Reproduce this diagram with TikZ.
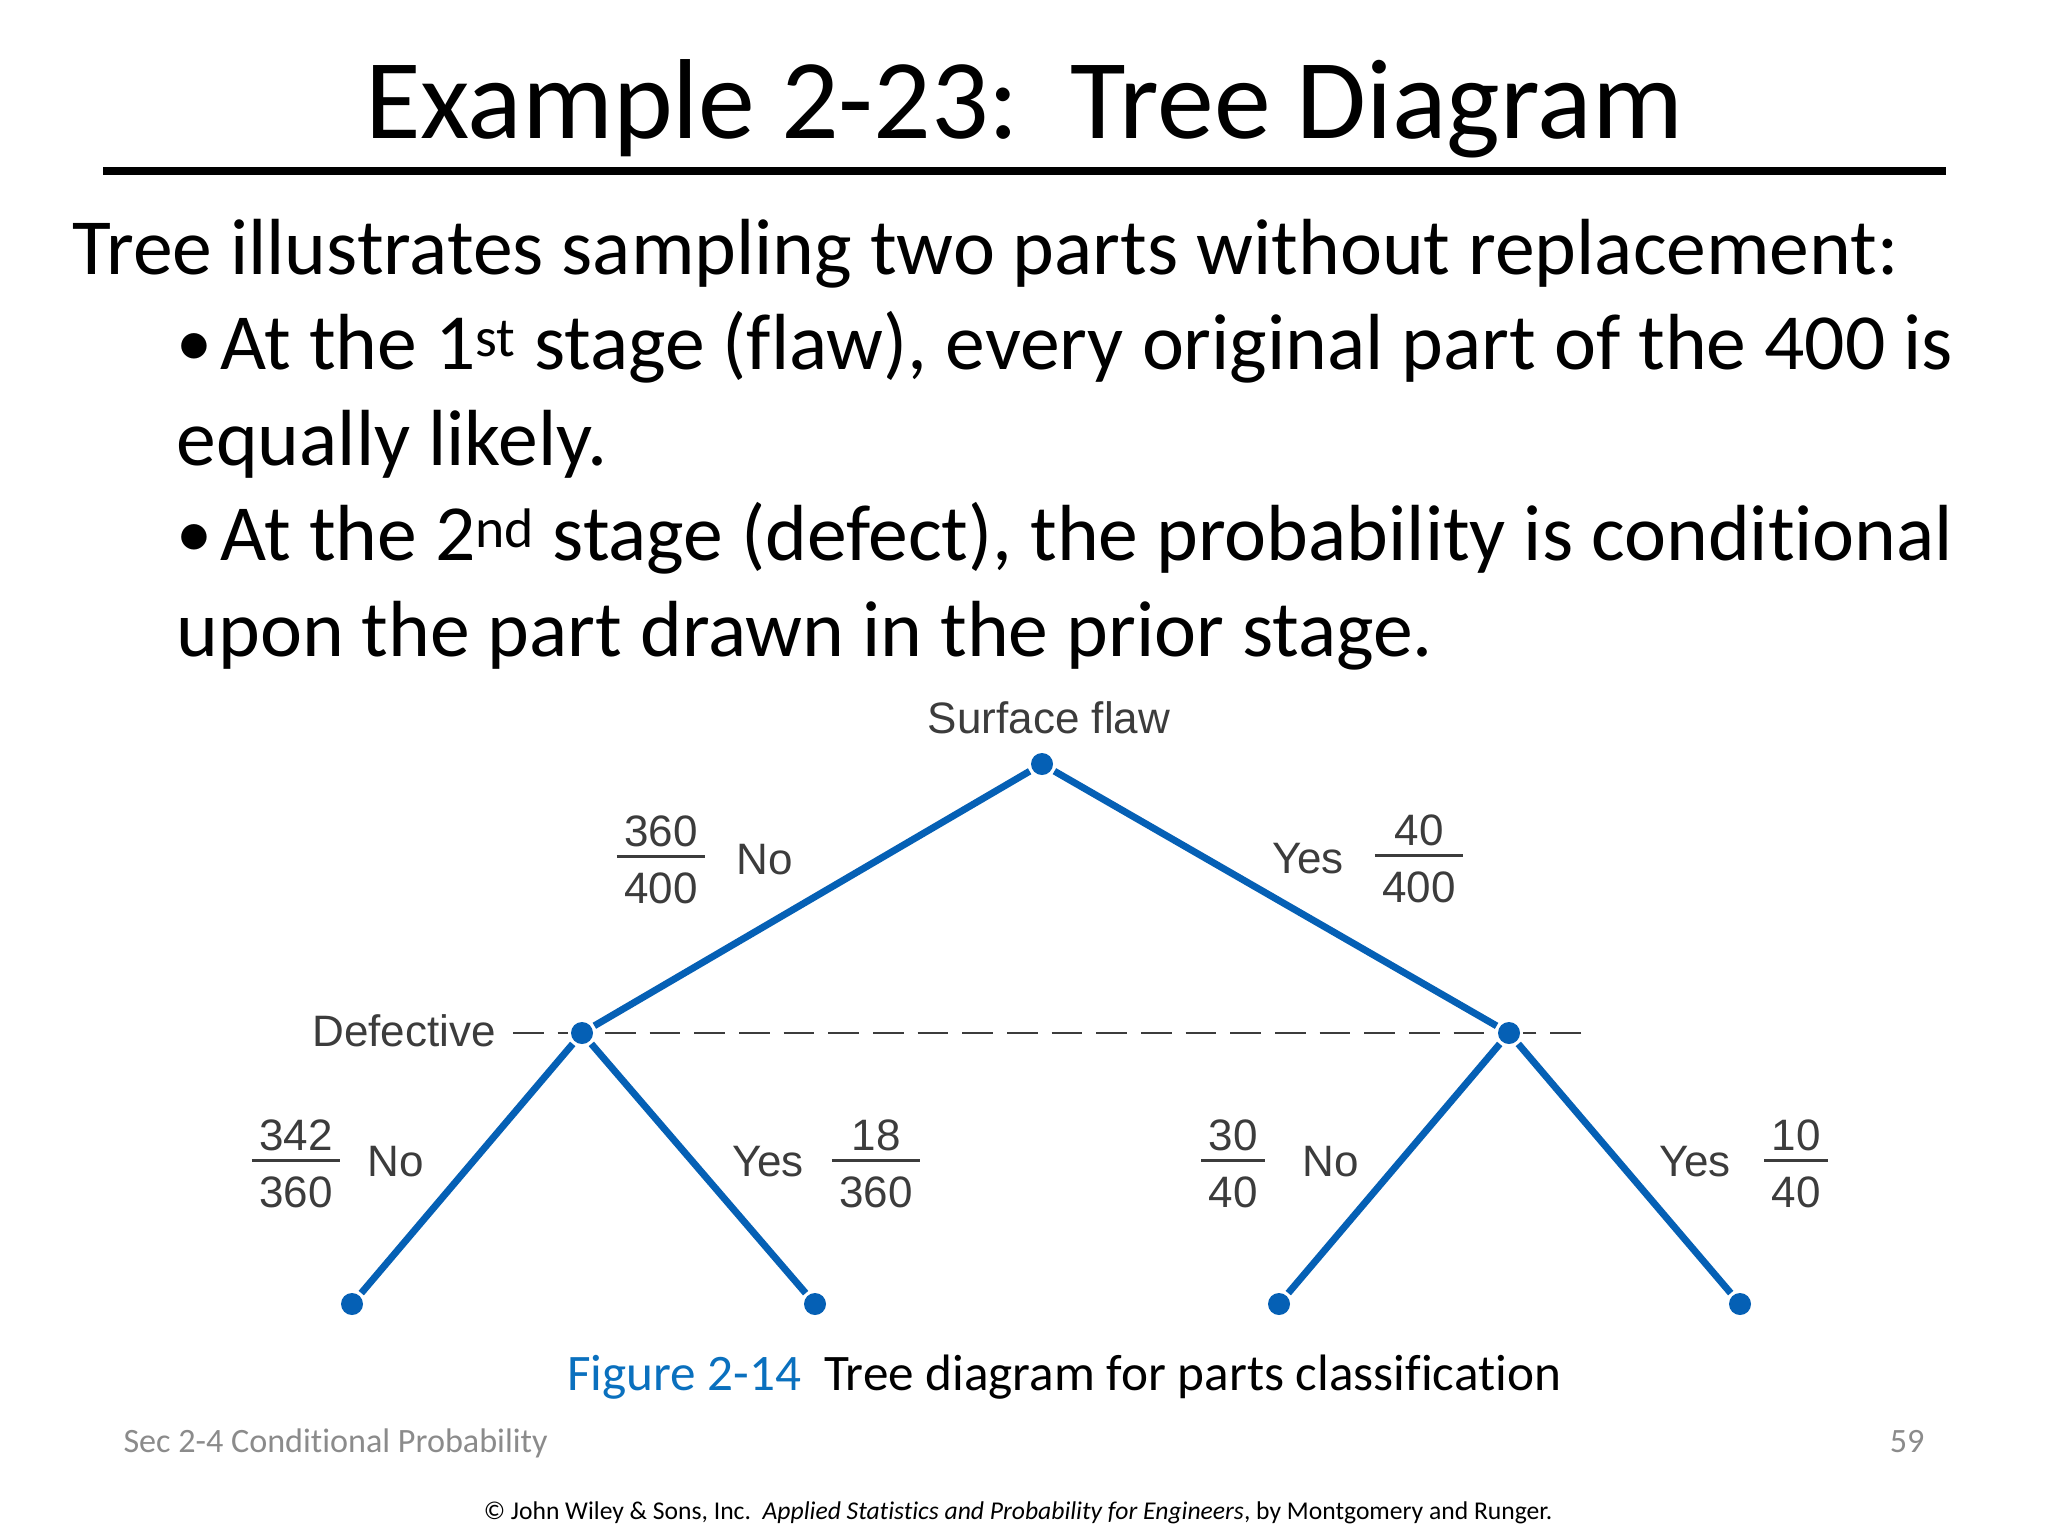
\documentclass[tikz,border=0pt]{standalone}
\usepackage{fontspec}
\setmainfont[Ligatures=NoCommon]{Carlito}
\newfontfamily\figfont{Liberation Sans}
\definecolor{treeblue}{HTML}{0560B5}
\definecolor{figgray}{HTML}{3C3C3C}
\definecolor{footgray}{HTML}{8B8B8B}
\definecolor{capblue}{HTML}{0A70BE}
\newcommand{\partfrac}[2]{\renewcommand{\arraystretch}{0}\arrayrulewidth=2pt\begin{tabular}{@{\hspace{5.5pt}}c@{\hspace{5.5pt}}}\rule[-7pt]{0pt}{34pt}#1\\\hline\rule{0pt}{34pt}#2\end{tabular}}
\newcommand{\slidebullet}{\makebox[33pt][l]{\raisebox{2pt}{\fontsize{54}{54}\selectfont\textbullet}}}
\tikzset{
  every picture/.style={line width=0.75pt},
  titletext/.style={anchor=base,inner sep=0pt,font=\fontsize{85.3}{88}\selectfont},
  bodytext/.style={anchor=base west,inner sep=0pt,font=\fontsize{59.7}{70}\selectfont},
  figlabel/.style={inner sep=0pt,text=figgray,font=\figfont\fontsize{33}{36}\selectfont},
  treedot/.style={circle,fill=treeblue,inner sep=0pt,minimum size=16.5pt,outer sep=2.5pt},
  branch/.style={treeblue,line width=5.2pt},
  levelline/.style={figgray,line width=2pt,dash pattern={on 23pt off 10.5pt}},
  foottext/.style={anchor=base west,inner sep=0pt,text=footgray,font=\fontsize{25.6}{30}\selectfont}
}
\begin{document}
\begin{tikzpicture}[x=0.75pt,y=0.75pt,yscale=-1,xscale=1]
        \fill [white] (0,0) rectangle (2048,1536);
        \useasboundingbox (0,0) rectangle (2048,1536);

        % Title
        \draw (1024,138) node (title) [titletext] {Example 2-23:\ \ Tree Diagram};
        \coordinate (ruleL) at (103,171);
        \coordinate (ruleR) at (1946,171);
        \draw [line width=6pt] (ruleL) -- (ruleR);

        % Text Node
        \draw (72,274) node (lineA) [bodytext] {Tree illustrates sampling two parts without replacement:};
        \draw (176,369) node (lineB) [bodytext] {\slidebullet At the 1\textsuperscript{st} stage (flaw), every original part of the 400 is};
        \draw (176,465) node (lineC) [bodytext] {equally likely.};
        \draw (176,560) node (lineD) [bodytext] {\slidebullet At the 2\textsuperscript{nd} stage (defect), the probability is conditional};
        \draw (176,656) node (lineE) [bodytext] {upon the part drawn in the prior stage.};

        % Tree dots
        \draw (1042,764) node (root) [treedot] {};
        \draw (582,1033) node (flawNo) [treedot] {};
        \draw (1509,1033) node (flawYes) [treedot] {};
        \draw (352,1304) node (leafA) [treedot] {};
        \draw (815,1304) node (leafB) [treedot] {};
        \draw (1279,1304) node (leafC) [treedot] {};
        \draw (1740,1304) node (leafD) [treedot] {};
        \coordinate (levelL) at (513,1033);
        \coordinate (levelR) at (1581,1033);

        % Straight Lines
        \draw [levelline] (levelL) -- (flawNo);
        \draw [levelline,dash phase=27pt] (flawNo) -- (flawYes);
        \draw [levelline] (levelR) -- (flawYes);
        \draw [branch] (root) -- (flawNo);
        \draw [branch] (root) -- (flawYes);
        \draw [branch] (flawNo) -- (leafA);
        \draw [branch] (flawNo) -- (leafB);
        \draw [branch] (flawYes) -- (leafC);
        \draw [branch] (flawYes) -- (leafD);

        % Text Node
        \draw (1049,718) node (surface) [figlabel] {Surface flaw};
        \draw (404,1031) node (defective) [figlabel] {Defective};
        \draw (661,857) node (fracA) [figlabel] {\partfrac{360}{400}};
        \draw (765,860) node (noA) [figlabel] {No};
        \draw (1308,859) node (yesA) [figlabel] {Yes};
        \draw (1419,856) node (fracB) [figlabel] {\partfrac{40}{400}};
        \draw (296,1161) node (fracC) [figlabel] {\partfrac{342}{360}};
        \draw (396,1162) node (noB) [figlabel] {No};
        \draw (768,1162) node (yesB) [figlabel] {Yes};
        \draw (876,1161) node (fracD) [figlabel] {\partfrac{18}{360}};
        \draw (1233,1161) node (fracE) [figlabel] {\partfrac{30}{40}};
        \draw (1331,1162) node (noC) [figlabel] {No};
        \draw (1695,1162) node (yesC) [figlabel] {Yes};
        \draw (1796,1161) node (fracF) [figlabel] {\partfrac{10}{40}};

        % Caption and footer
        \draw (1064,1390) node (caption) [anchor=base,inner sep=0pt,font=\fontsize{38.4}{42}\selectfont] {\textcolor{capblue}{Figure 2-14}\ \ Tree diagram for parts classification};
        \draw (123,1452) node (section) [foottext] {Sec 2-4 Conditional Probability};
        \draw (1925,1452) node (pagenum) [foottext,anchor=base east] {59};
        \draw (1018,1519) node (credit) [anchor=base,inner sep=0pt,font=\fontsize{19.2}{24}\selectfont] {\textcopyright\ John Wiley \& Sons, Inc.\ \ \textit{Applied Statistics and Probability for Engineers}, by Montgomery and Runger.};
\end{tikzpicture}
\end{document}
